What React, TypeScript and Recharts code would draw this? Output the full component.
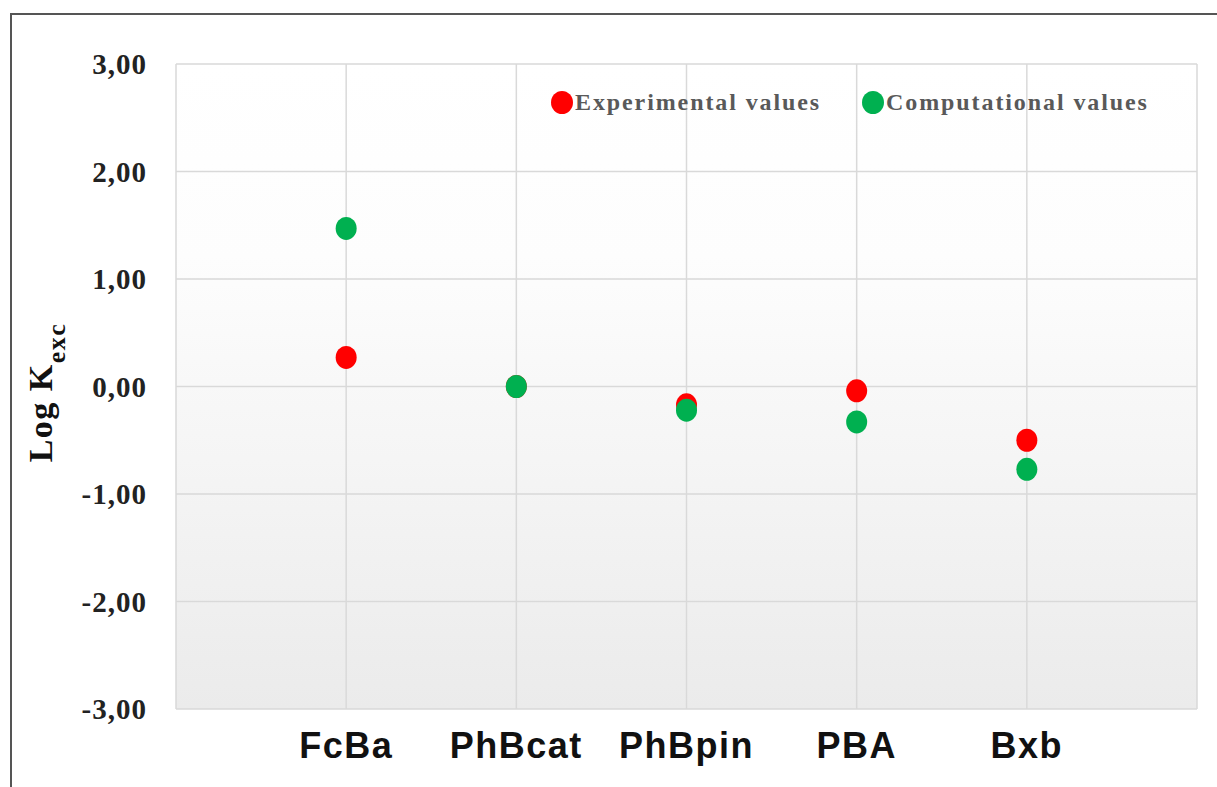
import { CartesianGrid, Legend, Scatter, ScatterChart, XAxis, YAxis } from "recharts";

// compounds along the x axis, Log K(exc)
const compounds = ["FcBa", "PhBcat", "PhBpin", "PBA", "Bxb"];
const experimental = [0.27, 0.0, -0.17, -0.04, -0.5];
const computational = [1.47, 0.0, -0.22, -0.33, -0.77];
const yTicks = [-3, -2, -1, 0, 1, 2, 3];
const xTicks = [0, 1, 2, 3, 4, 5, 6];

const RED = "#ff0000";
const GREEN = "#00b050";

const toPoints = (vals: number[]) => vals.map((v, i) => ({ x: i + 1, y: v, name: compounds[i] }));
const expData = toPoints(experimental);
const compData = toPoints(computational);

const fmtY = (v: number) => v.toFixed(2).replace(".", ",");
const fmtX = (v: number) => compounds[v - 1] ?? "";

function Dot({ cx, cy, fill }: { cx?: number; cy?: number; fill?: string }) {
  if (cx == null || cy == null) return null;
  return <ellipse cx={cx} cy={cy} rx={10.5} ry={11.5} fill={fill} />;
}

function YTitle({ viewBox }: any) {
  const cy = viewBox ? viewBox.y + viewBox.height / 2 + 6 : 393;
  const x = 52;
  return (
    <text
      x={x}
      y={cy}
      transform={`rotate(-90, ${x}, ${cy})`}
      textAnchor="middle"
      fontFamily="'Liberation Serif', 'Times New Roman', serif"
      fontWeight="bold"
      fontSize={34}
      letterSpacing={1.5}
      fill="#111"
    >
      Log K
      <tspan dy={13} fontSize={26}>exc</tspan>
    </text>
  );
}

function LegendBox() {
  const item = (color: string, label: string) => (
    <div style={{ display: "flex", alignItems: "center" }}>
      <span style={{ width: 22, height: 23, borderRadius: "50%", background: color, display: "inline-block" }} />
      <span style={{ marginLeft: 2, color: "#595959" }}>{label}</span>
    </div>
  );
  return (
    <div
      style={{
        display: "flex",
        gap: 41,
        fontFamily: "'Liberation Serif', 'Times New Roman', serif",
        fontWeight: "bold",
        fontSize: 24,
        letterSpacing: 1.9,
        whiteSpace: "nowrap",
      }}
    >
      {item(RED, "Experimental values")}
      {item(GREEN, "Computational values")}
    </div>
  );
}

export default function App() {
  return (
    <div style={{ position: "absolute", left: 0, top: 0, width: 1217, height: 787, overflow: "hidden", background: "#fff" }}>
      <div
        style={{
          position: "absolute",
          left: 10,
          top: 13,
          width: 1207,
          height: 774,
          borderLeft: "2px solid #555",
          borderTop: "2px solid #555",
          boxSizing: "border-box",
        }}
      />
      <div style={{ position: "absolute", left: 0, top: 0 }}>
        <ScatterChart width={1217} height={787} margin={{ top: 64, right: 20, left: 0, bottom: 0 }}>
          <defs>
            <linearGradient id="plotBg" x1="0" y1="0" x2="0" y2="1">
              <stop offset="0%" stopColor="#ffffff" />
              <stop offset="30%" stopColor="#fdfdfd" />
              <stop offset="100%" stopColor="#ebebeb" />
            </linearGradient>
          </defs>
          <CartesianGrid stroke="#d9d9d9" strokeWidth={1.5} fill="url(#plotBg)" />
          <XAxis
            type="number"
            dataKey="x"
            domain={[0, 6]}
            ticks={xTicks}
            tickFormatter={fmtX}
            interval={0}
            axisLine={false}
            tickLine={false}
            tickSize={0}
            tickMargin={23}
            height={78}
            tick={{ fontFamily: "'Liberation Sans', Arial, sans-serif", fontWeight: "bold", fontSize: 36, letterSpacing: 1.5, fill: "#111" }}
          />
          <YAxis
            type="number"
            dataKey="y"
            domain={[-3, 3]}
            ticks={yTicks}
            tickFormatter={fmtY}
            interval={0}
            axisLine={false}
            tickLine={false}
            tickSize={0}
            tickMargin={29}
            width={176}
            tick={{ fontFamily: "'Liberation Serif', 'Times New Roman', serif", fontWeight: "bold", fontSize: 29, letterSpacing: 1, fill: "#222" }}
            label={{ content: YTitle }}
          />
          <Legend
            content={<LegendBox />}
            verticalAlign="middle"
            align="center"
            wrapperStyle={{ left: 551, top: 89, width: "auto" }}
          />
          <Scatter name="Experimental values" data={expData} fill={RED} shape={<Dot />} isAnimationActive={false} />
          <Scatter name="Computational values" data={compData} fill={GREEN} shape={<Dot />} isAnimationActive={false} />
        </ScatterChart>
      </div>
    </div>
  );
}
